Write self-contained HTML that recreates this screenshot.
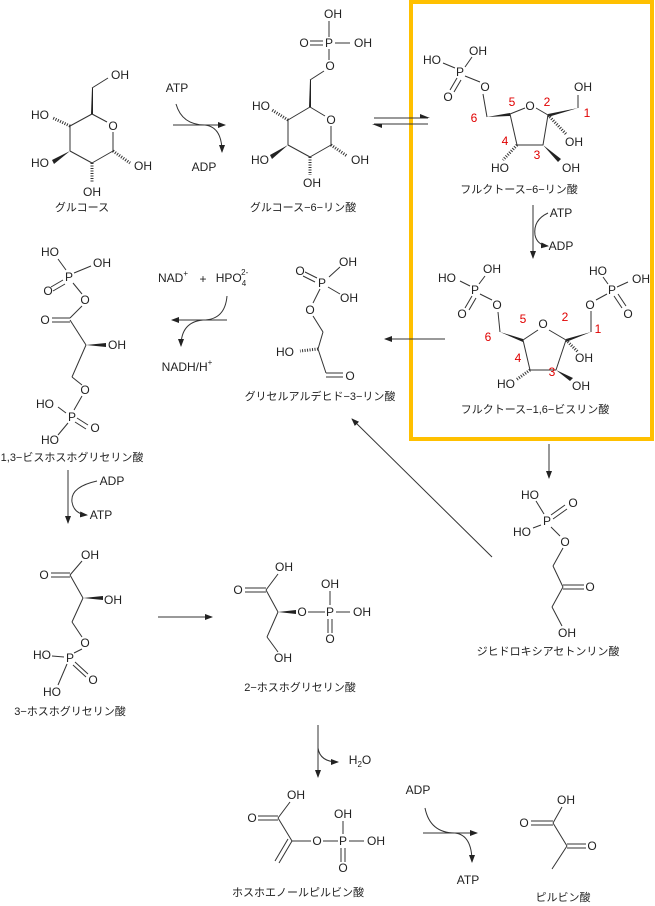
<!DOCTYPE html>
<html><head><meta charset="utf-8"><style>
body{margin:0;background:#fff}
svg{display:block}
text{font-family:"Liberation Sans","Noto Sans CJK JP",sans-serif;font-size:12px;fill:#222;text-anchor:middle;dominant-baseline:central}
.j{font-size:11px}
.r{fill:#e00000;font-size:12px}
line,path,polyline{stroke:#333;stroke-width:1;fill:none}
path.ah{fill:#222;stroke:none}
.h{stroke-width:3;stroke-dasharray:1 1.5}
.w{fill:#222;stroke:none}
</style></head><body>
<svg width="655" height="906" viewBox="0 0 655 906" xmlns="http://www.w3.org/2000/svg">
<defs><marker id="a" markerWidth="8" markerHeight="6" refX="7" refY="3" orient="auto" markerUnits="userSpaceOnUse"><path class="ah" d="M0,0 L8,3 L0,6 z"/></marker></defs>

<rect x="411" y="2" width="241" height="437" fill="none" stroke="#FFC000" stroke-width="4"/>

<!-- Glucose -->
<line x1="92" y1="114" x2="107" y2="122"/><line x1="113" y1="132" x2="113" y2="151"/>
<line x1="113" y1="151" x2="92" y2="163"/><line x1="92" y1="163" x2="70" y2="151"/>
<line x1="70" y1="151" x2="70" y2="126"/><line x1="70" y1="126" x2="92" y2="114"/>
<text x="113" y="126">O</text>
<polygon class="w" points="91,114 93,114 93,88 92,88"/>
<line x1="92" y1="88" x2="108" y2="78"/><text x="120" y="75">OH</text>
<line class="h" x1="70" y1="126" x2="53" y2="118"/><text x="40" y="115">HO</text>
<polygon class="w" points="70,151 52,160 54,164"/><text x="40" y="163">HO</text>
<line class="h" x1="92" y1="163" x2="92" y2="182"/><text x="92" y="192">OH</text>
<line class="h" x1="113" y1="151" x2="130" y2="163"/><text x="143" y="166">OH</text>
<text class="j" x="82" y="208">グルコース</text>

<!-- ATP -> ADP -->
<text x="177" y="88">ATP</text>
<line x1="173" y1="125" x2="225" y2="125" marker-end="url(#a)"/>
<path d="M176,104 Q182,125 205,125 Q222,127 222,152" marker-end="url(#a)"/>
<text x="204" y="167">ADP</text>

<!-- G6P -->
<line x1="310" y1="107" x2="325" y2="116"/><line x1="331" y1="126" x2="331" y2="145"/>
<line x1="331" y1="145" x2="310" y2="157"/><line x1="310" y1="157" x2="288" y2="145"/>
<line x1="288" y1="145" x2="288" y2="120"/><line x1="288" y1="120" x2="310" y2="107"/>
<text x="331" y="120">O</text>
<polygon class="w" points="309,107 311,107 311,80 310,80"/>
<line x1="310" y1="80" x2="324" y2="71"/><text x="330" y="66">O</text>
<line x1="329" y1="60" x2="329" y2="49"/><text x="329" y="43">P</text>
<line x1="329" y1="37" x2="329" y2="21"/><text x="333" y="14">OH</text>
<line x1="335" y1="43" x2="350" y2="43"/><text x="363" y="43">OH</text>
<line x1="310" y1="41" x2="323" y2="41"/><line x1="310" y1="45" x2="323" y2="45"/><text x="304" y="43">O</text>
<line class="h" x1="288" y1="120" x2="272" y2="110"/><text x="261" y="106">HO</text>
<polygon class="w" points="288,145 270,155 272,159"/><text x="260" y="160">HO</text>
<line class="h" x1="310" y1="157" x2="310" y2="175"/><text x="312" y="183">OH</text>
<line class="h" x1="331" y1="145" x2="347" y2="156"/><text x="360" y="160">OH</text>
<text class="j" x="303" y="208">グルコース−6−リン酸</text>

<!-- equilibrium -->
<line x1="374" y1="118" x2="428" y2="118"/><polygon class="w" points="430,118 420,114 420,118"/>
<line x1="374" y1="124" x2="428" y2="124"/><polygon class="w" points="372,124 382,124 382,128"/>

<!-- F6P -->
<line x1="510" y1="114" x2="525" y2="108"/><line x1="536" y1="108" x2="548" y2="115"/>
<line x1="548" y1="115" x2="543" y2="145"/><line x1="543" y1="145" x2="517" y2="145"/><line x1="517" y1="145" x2="510" y2="114"/>
<text x="530" y="106">O</text>
<polygon class="w" points="510,113 510,116 487,117"/>
<line x1="487" y1="117" x2="483" y2="94"/><text x="485" y="87">O</text>
<line x1="480" y1="82" x2="465" y2="76"/><text x="460" y="72">P</text>
<line x1="455" y1="68" x2="443" y2="63"/><text x="432" y="60">HO</text>
<line x1="465" y1="67" x2="472" y2="57"/><text x="478" y="51">OH</text>
<line x1="457" y1="78" x2="450" y2="90"/><line x1="461" y1="80" x2="454" y2="92"/><text x="448" y="97">O</text>
<polygon class="w" points="548,114 548,117 578,108"/>
<line x1="578" y1="108" x2="578" y2="95"/><text x="583" y="87">OH</text>
<line class="h" x1="548" y1="115" x2="566" y2="134"/><text x="574" y="142">OH</text>
<polygon class="w" points="543,145 558,162 561,159"/><text x="571" y="168">OH</text>
<line class="h" x1="517" y1="145" x2="503" y2="160"/><text x="500" y="168">HO</text>
<text class="r" x="474" y="118">6</text><text class="r" x="512" y="102">5</text><text class="r" x="547" y="102">2</text>
<text class="r" x="587" y="113">1</text><text class="r" x="505" y="141">4</text><text class="r" x="537" y="155">3</text>
<text class="j" x="519" y="190">フルクトース−6−リン酸</text>

<line x1="533" y1="205" x2="533" y2="258" marker-end="url(#a)"/>
<text x="561" y="213">ATP</text><text x="561" y="246">ADP</text>
<path d="M548,213 Q533,220 535,235 Q537,245 548,246" marker-end="url(#a)"/>

<!-- F16BP -->
<line x1="523" y1="340" x2="538" y2="330"/><line x1="549" y1="330" x2="566" y2="340"/>
<line x1="566" y1="340" x2="556" y2="370"/><line x1="556" y1="370" x2="530" y2="370"/><line x1="530" y1="370" x2="523" y2="340"/>
<text x="543" y="324">O</text>
<polygon class="w" points="523,339 523,342 500,332"/>
<line x1="500" y1="332" x2="498" y2="312"/><text x="497" y="305">O</text>
<line x1="492" y1="300" x2="480" y2="294"/><text x="475" y="290">P</text>
<line x1="470" y1="286" x2="460" y2="281"/><text x="447" y="278">HO</text>
<line x1="479" y1="284" x2="485" y2="276"/><text x="492" y="269">OH</text>
<line x1="472" y1="296" x2="465" y2="308"/><line x1="476" y1="298" x2="469" y2="310"/><text x="462" y="314">O</text>
<polygon class="w" points="566,339 566,342 591,332"/>
<line x1="591" y1="332" x2="591" y2="311"/><text x="590" y="305">O</text>
<line x1="596" y1="300" x2="607" y2="294"/><text x="612" y="290">P</text>
<line x1="608" y1="284" x2="603" y2="277"/><text x="598" y="271">HO</text>
<line x1="617" y1="287" x2="628" y2="282"/><text x="641" y="279">OH</text>
<line x1="614" y1="296" x2="622" y2="308"/><line x1="618" y1="294" x2="626" y2="306"/><text x="628" y="314">O</text>
<line class="h" x1="566" y1="340" x2="578" y2="352"/><text x="584" y="358">OH</text>
<polygon class="w" points="556,370 570,381 573,378"/><text x="581" y="386">OH</text>
<line class="h" x1="530" y1="370" x2="516" y2="380"/><text x="506" y="384">HO</text>
<text class="r" x="488" y="337">6</text><text class="r" x="523" y="319">5</text><text class="r" x="565" y="317">2</text>
<text class="r" x="598" y="329">1</text><text class="r" x="518" y="358">4</text><text class="r" x="552" y="372">3</text>
<text class="j" x="535" y="410">フルクトース−1,6−ビスリン酸</text>

<line x1="445" y1="339" x2="385" y2="339" marker-end="url(#a)"/>
<line x1="549" y1="444" x2="549" y2="478" marker-end="url(#a)"/>

<!-- G3P -->
<text x="348" y="262">OH</text><line x1="329" y1="277" x2="340" y2="267"/>
<text x="322" y="283">P</text>
<line x1="317" y1="278" x2="305" y2="272"/><line x1="315" y1="282" x2="303" y2="276"/><text x="300" y="271">O</text>
<line x1="328" y1="287" x2="340" y2="294"/><text x="349" y="298">OH</text>
<line x1="320" y1="289" x2="313" y2="303"/><text x="310" y="310">O</text>
<line x1="313" y1="316" x2="323" y2="332"/><line x1="323" y1="332" x2="318" y2="349"/>
<line class="h" x1="318" y1="349" x2="300" y2="351"/><text x="285" y="352">HO</text>
<line x1="318" y1="349" x2="326" y2="373"/>
<line x1="326" y1="373" x2="343" y2="373"/><line x1="326" y1="377" x2="343" y2="377"/><text x="350" y="376">O</text>
<text class="j" x="320" y="397">グリセルアルデヒド−3−リン酸</text>

<line x1="492" y1="557" x2="352" y2="419" marker-end="url(#a)"/>

<!-- NAD -->
<text x="173" y="278">NAD<tspan dy="-5" font-size="8">+</tspan></text>
<text x="203" y="279">+</text>
<text x="232" y="278">HPO<tspan dy="5" font-size="8">4</tspan><tspan dx="-5" dy="-11" font-size="8">2-</tspan></text>
<line x1="227" y1="320" x2="172" y2="320" marker-end="url(#a)"/>
<path d="M227,296 Q225,320 203,320 Q181,322 181,346" marker-end="url(#a)"/>
<text x="187" y="367">NADH/H<tspan dy="-5" font-size="8">+</tspan></text>

<!-- 1,3-BPG -->
<text x="50" y="252">HO</text><line x1="58" y1="259" x2="66" y2="270"/>
<text x="69" y="277">P</text>
<line x1="74" y1="273" x2="91" y2="266"/><text x="102" y="263">OH</text>
<line x1="63" y1="280" x2="51" y2="287"/><line x1="65" y1="284" x2="53" y2="291"/><text x="48" y="291">O</text>
<line x1="73" y1="283" x2="82" y2="294"/><text x="85" y="300">O</text>
<line x1="82" y1="306" x2="70" y2="318"/>
<line x1="70" y1="318" x2="52" y2="318"/><line x1="70" y1="322" x2="52" y2="322"/><text x="45" y="320">O</text>
<line x1="70" y1="320" x2="86" y2="345"/>
<polygon class="w" points="86,345 106,343 106,347"/><text x="117" y="345">OH</text>
<line x1="86" y1="345" x2="72" y2="377"/><line x1="72" y1="377" x2="82" y2="385"/><text x="85" y="390">O</text>
<line x1="82" y1="396" x2="74" y2="410"/><text x="72" y="417">P</text>
<line x1="66" y1="413" x2="58" y2="407"/><text x="45" y="404">HO</text>
<line x1="77" y1="418" x2="88" y2="425"/><line x1="75" y1="422" x2="86" y2="429"/><text x="95" y="428">O</text>
<line x1="68" y1="423" x2="58" y2="435"/><text x="50" y="440">HO</text>
<text class="j" x="72" y="458">1,3−ビスホスホグリセリン酸</text>

<line x1="68" y1="470" x2="68" y2="523" marker-end="url(#a)"/>
<text x="112" y="481">ADP</text><text x="101" y="515">ATP</text>
<path d="M97,481 Q70,487 72,502 Q74,514 87,515" marker-end="url(#a)"/>

<!-- 3PG -->
<text x="90" y="555">OH</text><line x1="70" y1="575" x2="82" y2="561"/>
<line x1="70" y1="573" x2="51" y2="573"/><line x1="70" y1="577" x2="51" y2="577"/><text x="44" y="575">O</text>
<line x1="70" y1="575" x2="83" y2="598"/>
<polygon class="w" points="83,598 103,596 103,600"/><text x="113" y="600">OH</text>
<line x1="83" y1="598" x2="72" y2="622"/><line x1="72" y1="622" x2="82" y2="637"/><text x="85" y="643">O</text>
<line x1="82" y1="649" x2="74" y2="653"/><text x="70" y="658">P</text>
<line x1="64" y1="657" x2="52" y2="656"/><text x="42" y="655">HO</text>
<line x1="75" y1="662" x2="88" y2="674"/><line x1="73" y1="665" x2="86" y2="677"/><text x="93" y="680">O</text>
<line x1="67" y1="664" x2="58" y2="685"/><text x="52" y="692">HO</text>
<text class="j" x="70" y="712">3−ホスホグリセリン酸</text>

<line x1="158" y1="617" x2="212" y2="617" marker-end="url(#a)"/>

<!-- 2PG -->
<text x="284" y="567">OH</text><line x1="266" y1="590" x2="278" y2="574"/>
<line x1="266" y1="588" x2="245" y2="588"/><line x1="266" y1="592" x2="245" y2="592"/><text x="238" y="590">O</text>
<line x1="266" y1="590" x2="278" y2="612"/>
<polygon class="w" points="278,612 296,610 296,614"/><text x="302" y="612">O</text>
<line x1="308" y1="612" x2="325" y2="612"/><text x="330" y="612">P</text>
<line x1="330" y1="605" x2="330" y2="591"/><text x="330" y="584">OH</text>
<line x1="336" y1="612" x2="350" y2="612"/><text x="362" y="612">OH</text>
<line x1="328" y1="619" x2="328" y2="633"/><line x1="332" y1="619" x2="332" y2="633"/><text x="330" y="639">O</text>
<line x1="278" y1="612" x2="267" y2="637"/><line x1="267" y1="637" x2="278" y2="652"/><text x="283" y="658">OH</text>
<text class="j" x="300" y="688">2−ホスホグリセリン酸</text>

<line x1="318" y1="725" x2="318" y2="777" marker-end="url(#a)"/>
<path d="M318,748 Q320,762 338,762" marker-end="url(#a)"/>
<text x="360" y="760">H<tspan dy="4" font-size="8">2</tspan><tspan dy="-4">O</tspan></text>

<!-- PEP -->
<text x="296" y="795">OH</text><line x1="278" y1="818" x2="290" y2="802"/>
<line x1="278" y1="816" x2="258" y2="816"/><line x1="278" y1="820" x2="258" y2="820"/><text x="252" y="818">O</text>
<line x1="278" y1="818" x2="292" y2="841"/>
<line x1="292" y1="841" x2="279" y2="863"/><line x1="288" y1="839" x2="275" y2="861"/>
<line x1="292" y1="841" x2="311" y2="841"/><text x="317" y="841">O</text>
<line x1="323" y1="841" x2="338" y2="841"/><text x="343" y="841">P</text>
<line x1="343" y1="834" x2="343" y2="821"/><text x="343" y="814">OH</text>
<line x1="349" y1="841" x2="364" y2="841"/><text x="376" y="841">OH</text>
<line x1="341" y1="848" x2="341" y2="862"/><line x1="345" y1="848" x2="345" y2="862"/><text x="343" y="868">O</text>
<text class="j" x="298" y="893">ホスホエノールピルビン酸</text>

<text x="418" y="790">ADP</text>
<line x1="423" y1="833" x2="477" y2="833" marker-end="url(#a)"/>
<path d="M425,808 Q430,833 455,833 Q472,835 472,862" marker-end="url(#a)"/>
<text x="468" y="880">ATP</text>

<!-- Pyruvate -->
<text x="566" y="800">OH</text><line x1="553" y1="823" x2="562" y2="807"/>
<line x1="553" y1="821" x2="531" y2="821"/><line x1="553" y1="825" x2="531" y2="825"/><text x="524" y="823">O</text>
<line x1="553" y1="823" x2="567" y2="846"/>
<line x1="567" y1="844" x2="586" y2="844"/><line x1="567" y1="848" x2="586" y2="848"/><text x="592" y="846">O</text>
<line x1="567" y1="846" x2="552" y2="869"/>
<text class="j" x="563" y="898">ピルビン酸</text>

<!-- DHAP -->
<text x="530" y="495">HO</text><line x1="536" y1="501" x2="544" y2="514"/>
<line x1="551" y1="515" x2="565" y2="505"/><line x1="553" y1="519" x2="567" y2="509"/><text x="573" y="503">O</text>
<text x="547" y="521">P</text>
<line x1="541" y1="525" x2="533" y2="528"/><text x="522" y="532">HO</text>
<line x1="551" y1="527" x2="560" y2="536"/><text x="565" y="542">O</text>
<line x1="563" y1="548" x2="553" y2="566"/><line x1="553" y1="566" x2="563" y2="587"/>
<line x1="563" y1="585" x2="584" y2="585"/><line x1="563" y1="589" x2="584" y2="589"/><text x="590" y="587">O</text>
<line x1="563" y1="587" x2="552" y2="607"/><line x1="552" y1="607" x2="562" y2="626"/><text x="567" y="633">OH</text>
<text class="j" x="548" y="652">ジヒドロキシアセトンリン酸</text>
</svg>
</body></html>
